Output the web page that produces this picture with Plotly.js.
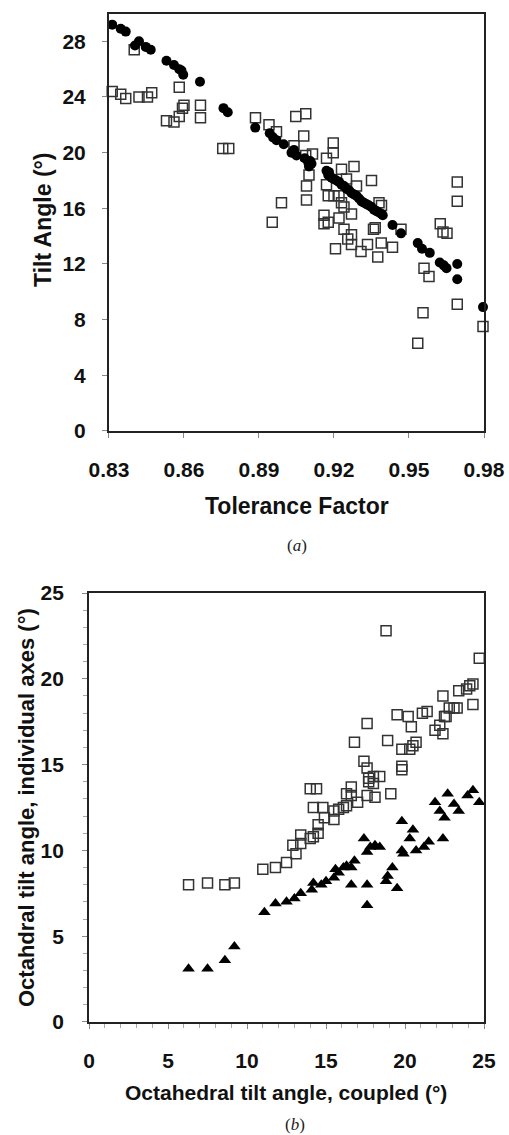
<!DOCTYPE html>
<html>
<head>
<meta charset="utf-8">
<script src="https://cdn.plot.ly/plotly-3.0.1.min.js"></script>
<style>html,body{margin:0;padding:0;background:#fff;}#chart{width:509px;height:1135px;}</style>
</head>
<body>
<div id="chart"></div>
<script>
// Panel (a): tilt angle vs tolerance factor
const tfCircle = [0.8313,0.8347,0.8367,0.8404,0.842,0.8447,0.8467,0.853,0.856,0.859,0.8581,0.8597,0.8664,0.8758,0.8775,0.8885,0.8943,0.8956,0.897,0.8999,0.903,0.904,0.905,0.9083,0.9097,0.911,0.917,0.9177,0.919,0.921,0.923,0.925,0.927,0.929,0.931,0.933,0.935,0.937,0.939,0.9434,0.9468,0.9535,0.9552,0.9583,0.9623,0.9639,0.965,0.9693,0.9693,0.9796,0.918,0.9185,0.920,0.922,0.924,0.926,0.928,0.930,0.932,0.934,0.936,0.938,0.9395,0.910,0.9105];
const tiltCircle = [29.2,28.9,28.7,27.7,28.0,27.6,27.4,26.6,26.3,25.9,26.0,25.6,25.1,23.2,22.9,21.8,21.4,21.1,20.9,20.6,20.0,20.2,19.8,19.6,19.3,19.2,18.7,18.4,18.2,18.0,17.7,17.4,17.1,16.9,16.5,16.3,16.1,15.8,15.6,14.8,14.2,13.5,13.1,12.8,12.1,11.9,11.7,12.0,10.9,8.9,18.6,18.3,18.1,17.9,17.6,17.3,17.0,16.7,16.4,16.2,15.9,15.7,15.5,19.0,19.4];
const tfSquare = [0.8313,0.8347,0.8367,0.842,0.8454,0.8471,0.8401,0.8581,0.86,0.8594,0.8581,0.853,0.856,0.8666,0.8666,0.8755,0.8779,0.8886,0.894,0.897,0.9047,0.9087,0.9079,0.904,0.9114,0.9087,0.9197,0.9197,0.917,0.91,0.909,0.909,0.899,0.8953,0.923,0.928,0.925,0.929,0.935,0.917,0.9177,0.92,0.922,0.923,0.924,0.938,0.939,0.9693,0.9693,0.916,0.916,0.9177,0.922,0.927,0.924,0.9255,0.927,0.927,0.9206,0.9308,0.9334,0.9358,0.9365,0.9389,0.9375,0.9434,0.9468,0.9625,0.9636,0.9652,0.956,0.958,0.9693,0.9556,0.9535,0.9796];
const tiltSquare = [24.4,24.2,23.9,24.0,24.0,24.3,27.4,24.7,23.4,23.2,22.6,22.3,22.2,23.4,22.5,20.3,20.3,22.5,22.0,21.5,22.6,22.8,21.2,20.5,19.9,19.8,20.7,20.0,19.6,18.4,17.6,16.6,16.4,15.0,18.8,19.0,18.1,17.6,18.0,17.7,16.9,16.9,16.9,16.4,16.1,16.4,16.2,17.9,16.5,15.5,14.9,15.0,15.3,15.6,14.5,13.8,14.1,13.4,13.1,12.9,13.4,14.5,14.6,13.5,12.5,13.2,14.5,14.9,14.3,14.2,11.7,11.1,9.1,8.5,6.3,7.5];
const tfTicks = [0.83,0.86,0.89,0.92,0.95,0.98];
const tiltTicks = [0,4,8,12,16,20,24,28];

// Panel (b): individual-axis tilt vs coupled tilt
const coupledSquare = [18.8,24.7,24.1,24.3,23.9,23.4,22.4,24.3,23.1,22.8,23.3,21.4,21.1,19.5,20.2,20.4,17.6,22.5,22.6,22.2,21.9,22.4,16.8,18.9,20.7,20.5,20.3,19.8,17.4,17.6,19.8,19.8,17.7,18.0,18.4,14.0,14.4,16.6,17.7,18.0,16.3,16.6,17.6,18.1,19.1,17.0,14.2,14.8,15.5,15.8,16.1,16.3,14.9,15.5,14.5,14.5,13.4,14.0,14.2,12.9,13.4,13.1,12.5,11.8,11.0,6.3,7.5,8.6,9.2];
const indivSquare = [22.8,21.2,19.6,19.7,19.4,19.3,19.0,18.5,18.3,18.3,18.3,18.1,18.0,17.9,17.8,17.2,17.4,17.8,17.8,17.3,17.0,16.8,16.3,16.4,16.3,16.1,15.9,15.9,15.2,14.8,14.9,14.7,14.2,14.3,14.3,13.6,13.6,13.7,14.0,13.9,13.3,13.2,13.2,13.1,13.3,12.8,12.5,12.5,12.3,12.4,12.5,12.6,11.9,11.8,11.5,11.0,10.9,10.7,10.8,10.3,10.4,9.8,9.3,9.0,8.9,8.0,8.1,8.0,8.1];
const coupledTri = [6.3,7.5,8.6,9.2,11.1,11.8,12.5,13.0,13.4,14.1,14.2,14.7,15.0,15.5,15.8,16.1,16.3,16.6,16.8,15.6,16.6,17.6,17.6,17.4,17.6,17.8,18.1,18.4,18.8,18.9,19.2,19.5,19.8,20.5,20.3,19.8,19.9,20.7,21.2,21.5,22.4,21.9,22.2,22.5,22.7,23.1,23.4,23.96,24.3,24.7];
const indivTri = [3.1,3.1,3.6,4.4,6.4,6.9,7.0,7.2,7.5,7.7,8.1,8.0,8.2,8.4,8.7,9.0,9.1,9.0,9.4,8.9,8.0,8.0,6.8,10.7,9.9,10.2,10.3,10.2,8.2,8.5,9.0,7.8,11.7,11.2,10.7,10.0,9.8,10.0,10.2,10.5,10.7,12.8,12.3,11.9,13.3,12.7,12.3,13.2,13.5,12.8];
const coupledTicks = [0,5,10,15,20,25];
const indivTicks = [0,5,10,15,20,25];

const FONT = 'Arial, "Liberation Sans", sans-serif';
const tickFont = {family: FONT, size: 21, color: '#111', weight: 'bold'};
const sq = {symbol: 'square-open', size: 10, color: '#333', line: {width: 1.5, color: '#333'}};

const traces = [
  {x: tfSquare, y: tiltSquare, type: 'scatter', mode: 'markers', marker: sq, cliponaxis: false, xaxis: 'x', yaxis: 'y', name: 'individual'},
  {x: tfCircle, y: tiltCircle, type: 'scatter', mode: 'markers', marker: {symbol: 'circle', size: 10, color: '#000'}, cliponaxis: false, xaxis: 'x', yaxis: 'y', name: 'coupled'},
  {x: coupledSquare, y: indivSquare, type: 'scatter', mode: 'markers', marker: sq, cliponaxis: false, xaxis: 'x2', yaxis: 'y2', name: 'squares'},
  {x: coupledTri, y: indivTri, type: 'scatter', mode: 'markers', marker: {symbol: 'triangle-up', size: 11, color: '#000'}, cliponaxis: false, xaxis: 'x2', yaxis: 'y2', name: 'triangles'}
];

const axBase = {showline: true, mirror: true, linecolor: '#222', linewidth: 2, showgrid: false, zeroline: false,
  ticks: 'outside', ticklen: 5, tickcolor: '#888', tickwidth: 1, tickfont: tickFont, fixedrange: true};

const layout = {
  width: 509, height: 1135,
  margin: {l: 0, r: 0, t: 0, b: 0},
  paper_bgcolor: '#fff', plot_bgcolor: '#fff',
  showlegend: false,
  xaxis: Object.assign({}, axBase, {domain: [0.2141, 0.9509], anchor: 'y', range: [0.83, 0.98], tickvals: tfTicks, tickformat: '.2f', ticklabelstandoff: 14}),
  yaxis: Object.assign({}, axBase, {domain: [0.6203, 0.9881], anchor: 'x', range: [0, 30], tickvals: tiltTicks, ticklabelstandoff: 12}),
  xaxis2: Object.assign({}, axBase, {domain: [0.1749, 0.9509], anchor: 'y2', range: [0, 25], tickvals: coupledTicks, ticklabelstandoff: 14,
    minor: {dtick: 1, ticks: 'outside', ticklen: 4, tickcolor: '#aaa'}}),
  yaxis2: Object.assign({}, axBase, {domain: [0.0996, 0.4775], anchor: 'x2', range: [0, 25], tickvals: indivTicks, ticklabelstandoff: 14,
    minor: {dtick: 1, ticks: 'outside', ticklen: 4, tickcolor: '#aaa'}}),
  annotations: [
    {text: 'Tolerance Factor', xref: 'paper', yref: 'paper', x: 297/509, y: 1 - 506/1135, xanchor: 'center', yanchor: 'middle', showarrow: false,
      font: {family: FONT, size: 23, color: '#111', weight: 'bold'}},
    {text: 'Tilt Angle (°)', xref: 'paper', yref: 'paper', x: 43/509, y: 1 - 220/1135, xanchor: 'center', yanchor: 'middle', showarrow: false, textangle: -90,
      font: {family: FONT, size: 23, color: '#111', weight: 'bold'}},
    {text: '(<i>a</i>)', xref: 'paper', yref: 'paper', x: 297/509, y: 1 - 545/1135, xanchor: 'center', yanchor: 'middle', showarrow: false,
      font: {family: '"Liberation Serif", "Times New Roman", serif', size: 17, color: '#222'}},
    {text: 'Octahedral tilt angle, coupled (°)', xref: 'paper', yref: 'paper', x: 286/509, y: 1 - 1092/1135, xanchor: 'center', yanchor: 'middle', showarrow: false,
      font: {family: FONT, size: 21, color: '#111', weight: 'bold'}},
    {text: 'Octahdral tilt angle, individual axes (°)', xref: 'paper', yref: 'paper', x: 26/509, y: 1 - 808/1135, xanchor: 'center', yanchor: 'middle', showarrow: false, textangle: -90,
      font: {family: FONT, size: 22, color: '#111', weight: 'bold'}},
    {text: '(<i>b</i>)', xref: 'paper', yref: 'paper', x: 295/509, y: 1 - 1124/1135, xanchor: 'center', yanchor: 'middle', showarrow: false,
      font: {family: '"Liberation Serif", "Times New Roman", serif', size: 17, color: '#222'}}
  ]
};

Plotly.newPlot('chart', traces, layout, {staticPlot: true, displayModeBar: false});
</script>
</body>
</html>
